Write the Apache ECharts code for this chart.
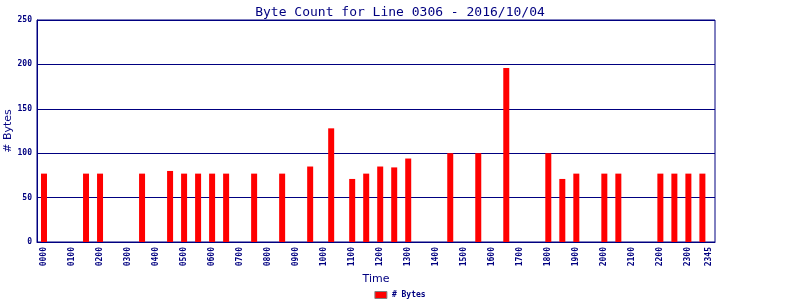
<!DOCTYPE html>
<html>
<head>
<meta charset="utf-8">
<script src="https://cdn.jsdelivr.net/npm/echarts@6/dist/echarts.min.js"></script>
<style>html,body{margin:0;padding:0;background:#fff}#c{width:800px;height:300px}</style>
</head>
<body>
<div id="c"></div>
<script>
// 15-minute slots 0000..2345
var slotLabels = [];
for (var h = 0; h < 24; h++) {
  for (var m = 0; m < 60; m += 15) {
    slotLabels.push((h < 10 ? '0' : '') + h + (m < 10 ? '0' : '') + m);
  }
}
var barTimes = ['0000','0130','0200','0330','0430','0500','0530','0600','0630','0730','0830',
  '0930','1015','1100','1130','1200','1230','1300','1430','1530','1630',
  '1800','1830','1900','2000','2030','2200','2230','2300','2330'];
var byteValues = [77,77,77,77,80,77,77,77,77,77,77,
  85,128,71,77,85,84,94,100,100,196,
  100,71,77,77,77,77,77,77,77];
var yTicks = [0,50,100,150,200,250];

var navy = '#000080';
var seriesData = barTimes.map(function (t, i) { return [slotLabels.indexOf(t), byteValues[i]]; });

var chart = echarts.init(document.getElementById('c'), null, {renderer: 'canvas'});
chart.setOption({
  animation: false,
  backgroundColor: '#ffffff',
  title: {
    text: 'Byte Count for Line 0306 - 2016/10/04',
    left: 'center', top: 1,
    textStyle: {fontFamily: 'DejaVu Sans Mono', fontSize: 13, fontWeight: 'normal', color: navy}
  },
  legend: {
    top: 291, left: 'center', padding: 0,
    itemWidth: 12, itemHeight: 7, itemGap: 4,
    data: [{name: '# Bytes', icon: 'rect', itemStyle: {color: '#ff0000', borderColor: '#808080', borderWidth: 1}}],
    textStyle: {fontFamily: 'DejaVu Sans Mono', fontSize: 8, fontWeight: 'bold', color: navy, padding: [0,0,0,0]}
  },
  grid: {left: 37, right: 85, top: 20, bottom: 58, show: true, borderColor: navy, borderWidth: 1,
         containLabel: false, outerBoundsMode: 'none'},
  xAxis: {
    type: 'value', min: -1, max: 95.8, interval: 1,
    name: 'Time', nameLocation: 'middle', nameGap: 32, nameMoveOverlap: false,
    nameTextStyle: {fontFamily: 'DejaVu Sans', fontSize: 11, color: navy},
    axisLine: {show: true, onZero: false, lineStyle: {color: navy, width: 1}},
    axisTick: {show: false},
    splitLine: {show: false},
    axisLabel: {
      rotate: 90, margin: 5, color: navy,
      fontFamily: 'DejaVu Sans Mono', fontSize: 8, fontWeight: 'bold',
      showMinLabel: true, showMaxLabel: true,
      formatter: function (v) {
        if (!Number.isInteger(v) || v < 0 || v >= slotLabels.length) return '';
        if (v % 4 === 0 || v === slotLabels.length - 1) return slotLabels[v];
        return '';
      }
    }
  },
  yAxis: {
    type: 'value', min: yTicks[0], max: yTicks[yTicks.length - 1], interval: 50,
    name: '# Bytes', nameLocation: 'middle', nameGap: 23, nameRotate: 90, nameMoveOverlap: false,
    nameTextStyle: {fontFamily: 'DejaVu Sans', fontSize: 11, color: navy},
    axisLine: {show: true, onZero: false, lineStyle: {color: navy, width: 1}},
    axisTick: {show: false},
    splitLine: {show: true, lineStyle: {color: navy, width: 1}},
    axisLabel: {margin: 5, color: navy, fontFamily: 'DejaVu Sans Mono', fontSize: 8, fontWeight: 'bold'}
  },
  series: [{
    name: '# Bytes', type: 'bar', barWidth: 6,
    itemStyle: {color: '#ff0000'},
    data: seriesData
  }]
});
</script>
</body>
</html>
